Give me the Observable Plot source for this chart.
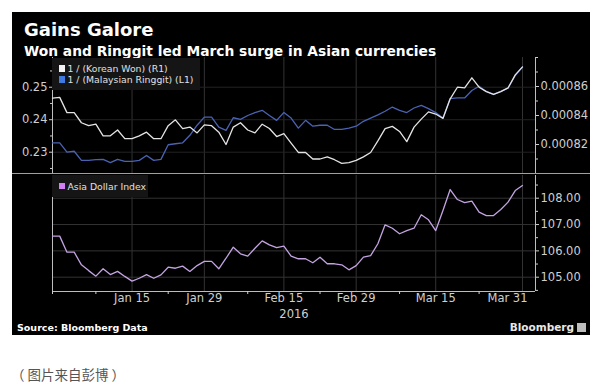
<!DOCTYPE html>
<html><head><meta charset="utf-8">
<script src="https://cdn.jsdelivr.net/npm/d3@7"></script>
<script src="https://cdn.jsdelivr.net/npm/@observablehq/plot@0.6"></script>
<style>
body{margin:0;background:#fff;width:600px;height:392px;position:relative;overflow:hidden;font-family:"DejaVu Sans",sans-serif}
#box{position:absolute;left:12px;top:12px;width:578px;height:323px;background:#000;overflow:hidden}
.abs{position:absolute;white-space:nowrap}
#title{left:12px;top:9px;color:#fff;font-weight:bold;font-size:18px;line-height:18px}
#subtitle{left:12px;top:32px;color:#fff;font-weight:bold;font-size:13.8px;line-height:14px}
#upper{left:0;top:40px}
#lower{left:0;top:162px}
#sep{left:0;top:160.5px;width:578px;height:1.5px;background:#a0a0a0}
.legend{background:#151515;color:#e0e0e0;font-size:9.3px}
.row{position:absolute;left:6.5px;height:11px;line-height:11px;display:flex;align-items:center}
.sq{display:inline-block;width:6.5px;height:6.5px;margin-right:2.5px}
#leg1{left:40px;top:45.5px;width:148px;height:32.5px}
#leg2{left:40px;top:163px;width:96px;height:21.5px}
#source{left:5px;top:310px;color:#fff;font-weight:bold;font-size:9.5px;line-height:12px}
#brand{right:4px;top:309px;color:#e8e8e8;font-weight:bold;font-size:10.5px;line-height:12px;display:flex;align-items:center}
#logo{display:inline-block;width:9px;height:9px;background:#bdbdbd;margin-left:3px}
#caption{left:11px;top:364px;color:#555;font-size:13.5px;line-height:20px;font-family:"Noto Sans CJK SC",sans-serif}
#caption span{margin:0 3px}
</style></head>
<body>
<div id="box">
  <div id="title" class="abs">Gains Galore</div>
  <div id="subtitle" class="abs">Won and Ringgit led March surge in Asian currencies</div>
  <div id="upper" class="abs"></div>
  <div id="sep" class="abs"></div>
  <div id="lower" class="abs"></div>
  <div id="leg1" class="abs legend"></div>
  <div id="leg2" class="abs legend"></div>
  <div id="source" class="abs">Source: Bloomberg Data</div>
  <div id="brand" class="abs">Bloomberg<span id="logo"></span></div>
</div>
<div id="caption" class="abs">（<span>图片来自彭博</span>）</div>
<script>
const dates = [
 "2015-12-31","2016-01-01","2016-01-04","2016-01-05","2016-01-06","2016-01-07","2016-01-08",
 "2016-01-11","2016-01-12","2016-01-13","2016-01-14","2016-01-15",
 "2016-01-18","2016-01-19","2016-01-20","2016-01-21","2016-01-22",
 "2016-01-25","2016-01-26","2016-01-27","2016-01-28","2016-01-29",
 "2016-02-01","2016-02-02","2016-02-03","2016-02-04","2016-02-05",
 "2016-02-08","2016-02-09","2016-02-10","2016-02-11","2016-02-12",
 "2016-02-15","2016-02-16","2016-02-17","2016-02-18","2016-02-19",
 "2016-02-22","2016-02-23","2016-02-24","2016-02-25","2016-02-26",
 "2016-02-29","2016-03-01","2016-03-02","2016-03-03","2016-03-04",
 "2016-03-07","2016-03-08","2016-03-09","2016-03-10","2016-03-11",
 "2016-03-14","2016-03-15","2016-03-16","2016-03-17","2016-03-18",
 "2016-03-21","2016-03-22","2016-03-23","2016-03-24","2016-03-25",
 "2016-03-28","2016-03-29","2016-03-30","2016-03-31"
];
// 1 / Korean Won (right axis)
const won = [
 0.0008520,0.0008525,0.0008420,0.0008420,0.0008350,0.0008330,0.0008340,0.0008260,0.0008260,0.0008300,
 0.0008240,0.0008240,0.0008260,0.0008285,0.0008240,0.0008240,0.0008330,0.0008370,0.0008310,0.0008320,
 0.0008280,0.0008335,0.0008330,0.0008285,0.0008200,0.0008320,0.0008350,0.0008300,0.0008280,0.0008340,
 0.0008310,0.0008255,0.0008275,0.0008210,0.0008145,0.0008145,0.0008100,0.0008100,0.0008115,0.0008095,
 0.0008070,0.0008075,0.0008090,0.0008115,0.0008145,0.0008225,0.0008310,0.0008325,0.0008290,0.0008220,
 0.0008320,0.0008375,0.0008425,0.0008410,0.0008380,0.0008515,0.0008595,0.0008590,0.0008660,0.0008595,
 0.0008565,0.0008545,0.0008565,0.0008590,0.0008680,0.0008735
];
// 1 / Malaysian Ringgit (left axis)
const ringgit = [
 0.2329,0.2329,0.2300,0.2303,0.2275,0.2275,0.2277,0.2278,0.2268,0.2278,
 0.2272,0.2272,0.2275,0.2290,0.2275,0.2278,0.2323,0.2326,0.2329,0.2352,
 0.2383,0.2408,0.2408,0.2377,0.2367,0.2406,0.2401,0.2413,0.2422,0.2429,
 0.2413,0.2398,0.2422,0.2405,0.2374,0.2398,0.2380,0.2383,0.2383,0.2370,
 0.2370,0.2374,0.2380,0.2395,0.2405,0.2415,0.2426,0.2439,0.2429,0.2422,
 0.2436,0.2444,0.2434,0.2422,0.2405,0.2465,0.2467,0.2467,0.2490,0.2503,
 0.2487,0.2478,0.2487,0.2497,0.2536,0.2562
];
// Asia Dollar Index
const asiaIndex = [
 106.56,106.56,105.95,105.95,105.47,105.25,105.04,105.32,105.10,105.22,
 105.03,104.85,104.96,105.10,104.96,105.09,105.38,105.34,105.42,105.22,
 105.44,105.60,105.60,105.32,105.72,106.14,105.89,105.80,106.10,106.38,
 106.23,106.12,106.18,105.80,105.70,105.70,105.55,105.76,105.51,105.51,
 105.47,105.28,105.44,105.76,105.82,106.27,106.99,106.86,106.65,106.77,
 106.86,107.37,107.18,106.77,107.53,108.33,107.95,107.83,107.89,107.47,
 107.34,107.34,107.57,107.85,108.29,108.48
];
const labelDates = ["2016-01-15","2016-01-29","2016-02-15","2016-02-29","2016-03-15","2016-03-31"];
const tickLabels = ["Jan 15","Jan 29","Feb 15","Feb 29","Mar 15","Mar 31"];
const minorDates = ["2015-12-31","2016-01-08","2016-01-22","2016-02-08","2016-02-22","2016-03-08","2016-03-23"];
const yearLabel = "2016";
const leftTicks = [0.23, 0.24, 0.25];
const leftMinor = [0.225, 0.235, 0.245, 0.255];
const rightTicks = [0.00082, 0.00084, 0.00086];
const rightMinor = [0.00081, 0.00083, 0.00085, 0.00087, 0.00088];
const idxTicks = [105, 106, 107, 108];
const idxMinor = [104.5, 105.5, 106.5, 107.5, 108.5];
const seriesNames = ["1 / (Korean Won) (R1)", "1 / (Malaysian Ringgit) (L1)", "Asia Dollar Index"];
const seriesColors = ["#f2f2f2", "#3f7ae0", "#d27ef5"];
const lineColors = ["#e4e4e4", "#4a62b2", "#c4a3e2"];

const idx = d => dates.indexOf(d);
const xDomain = [0, dates.length - 1 + 1.8];
const upperY = [0.22345, 0.25914];
const rightY = [0.00080, 0.00088];
const lowerY = [104.457, 108.862];
const wonToLeft = d3.scaleLinear().domain(rightY).range(upperY);

const upperData = dates.map((d, i) => ({i, won: wonToLeft(won[i]), ringgit: ringgit[i]}));
const lowerData = dates.map((d, i) => ({i, v: asiaIndex[i]}));
const labelIdx = labelDates.map(idx);

const style = {background: "transparent", color: "#cfcfcf", fontFamily: "DejaVu Sans", fontSize: "11.5px", overflow: "visible"};
const gridColor = "#333";

const upper = Plot.plot({
  width: 578, height: 122, marginLeft: 40, marginRight: 55, marginTop: 5, marginBottom: 1,
  style,
  x: {domain: xDomain, axis: null},
  y: {domain: upperY},
  marks: [
    Plot.gridX(labelIdx, {stroke: gridColor, strokeOpacity: 1}),
    Plot.gridY(leftTicks, {stroke: "#222", strokeOpacity: 1}),
    Plot.ruleX([xDomain[0]], {stroke: "#bdbdbd"}),
    Plot.ruleX([xDomain[1]], {stroke: "#bdbdbd"}),
    Plot.axisY({anchor: "left", ticks: leftTicks, tickFormat: d3.format(".2f"), tickSize: 3, tickPadding: 2, label: null}),
    Plot.axisY({anchor: "left", ticks: leftMinor, tickFormat: () => "", tickSize: 2, label: null}),
    Plot.axisY({anchor: "right", ticks: rightTicks.map(wonToLeft), tickFormat: d => d3.format(".5f")(wonToLeft.invert(d)), tickSize: 3, tickPadding: 2, label: null}),
    Plot.axisY({anchor: "right", ticks: rightMinor.map(wonToLeft), tickFormat: () => "", tickSize: 2, label: null}),
    Plot.line(upperData, {x: "i", y: "ringgit", stroke: lineColors[1], strokeWidth: 1.3}),
    Plot.line(upperData, {x: "i", y: "won", stroke: lineColors[0], strokeWidth: 1.3})
  ]
});
document.getElementById("upper").append(upper);

const lower = Plot.plot({
  width: 578, height: 146, marginLeft: 40, marginRight: 55, marginTop: 1, marginBottom: 29,
  style,
  x: {domain: xDomain},
  y: {domain: lowerY},
  marks: [
    Plot.gridX(labelIdx, {stroke: gridColor, strokeOpacity: 1}),
    Plot.gridY(idxTicks, {stroke: gridColor, strokeOpacity: 1}),
    Plot.ruleX([xDomain[0]], {stroke: "#bdbdbd"}),
    Plot.ruleX([xDomain[1]], {stroke: "#bdbdbd"}),
    Plot.ruleY([lowerY[0]], {stroke: "#bdbdbd"}),
    Plot.axisY({anchor: "right", ticks: idxTicks, tickFormat: d3.format(".2f"), tickSize: 3, tickPadding: 2, label: null}),
    Plot.axisY({anchor: "right", ticks: idxMinor, tickFormat: () => "", tickSize: 2, label: null}),
    Plot.axisX({anchor: "bottom", ticks: minorDates.map(idx), tickFormat: () => "", tickSize: 3, label: null}),
    Plot.axisX({anchor: "bottom", ticks: labelIdx.slice(0, 5), tickFormat: d => tickLabels[labelIdx.indexOf(d)], tickSize: 0, tickPadding: 2, label: null}),
    Plot.axisX({anchor: "bottom", ticks: [labelIdx[5]], tickFormat: () => tickLabels[5], tickSize: 0, tickPadding: 2, dx: -15, label: null}),
    Plot.text([yearLabel], {text: d => d, frameAnchor: "bottom", lineAnchor: "middle", dy: 23, fill: "#cfcfcf"}),
    Plot.line(lowerData, {x: "i", y: "v", stroke: lineColors[2], strokeWidth: 1.3})
  ]
});
document.getElementById("lower").append(lower);

function legendRow(parent, name, color, top) {
  const r = document.createElement("div");
  r.className = "row";
  r.style.top = top + "px";
  const s = document.createElement("span");
  s.className = "sq";
  s.style.background = color;
  r.append(s, document.createTextNode(name));
  parent.append(r);
}
const leg1 = document.getElementById("leg1");
legendRow(leg1, seriesNames[0], seriesColors[0], 5.3);
legendRow(leg1, seriesNames[1], seriesColors[1], 16.3);
legendRow(document.getElementById("leg2"), seriesNames[2], seriesColors[2], 5.5);
</script>
</body></html>
